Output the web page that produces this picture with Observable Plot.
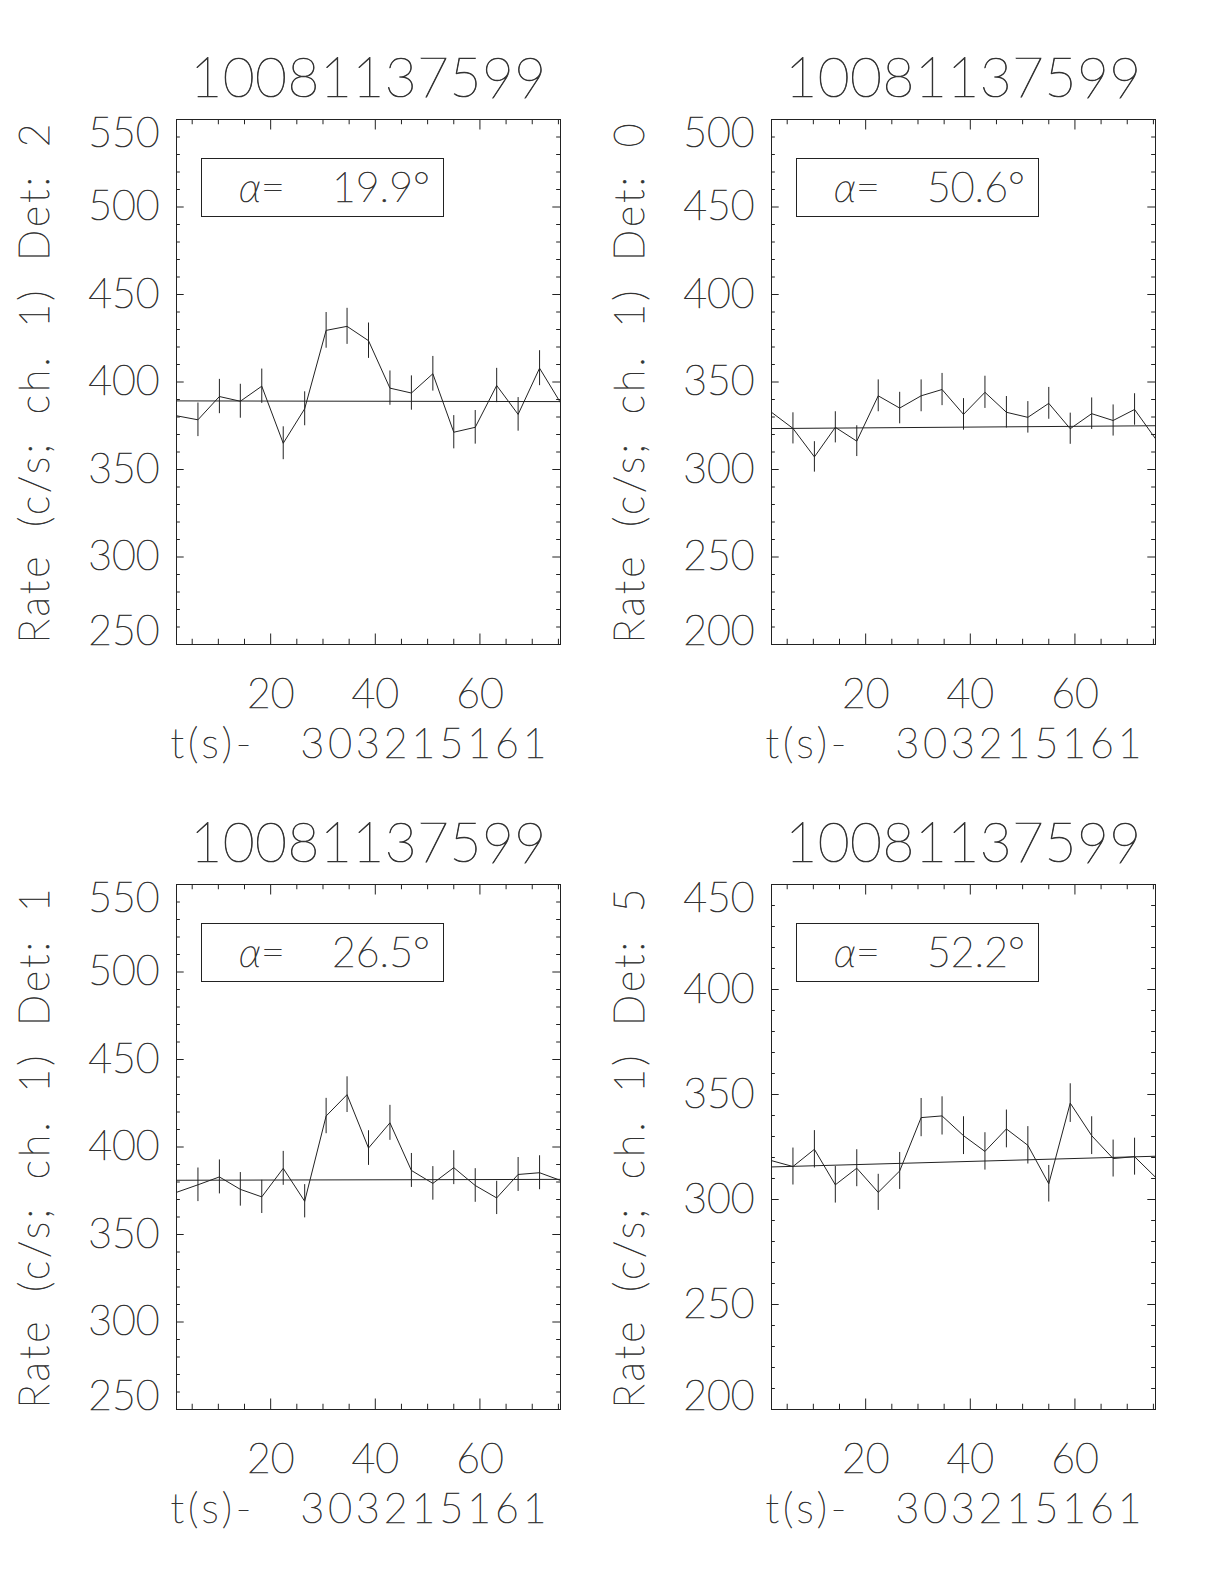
<!DOCTYPE html>
<html><head><meta charset="utf-8">
<script src="https://cdn.jsdelivr.net/npm/d3@7"></script>
<script src="https://cdn.jsdelivr.net/npm/@observablehq/plot@0.6"></script>
<style>
body{margin:0;background:#fff;}
#wrap{position:relative;width:1224px;height:1584px;background:#fff;}
#wrap svg{position:absolute;background:transparent !important;overflow:visible;}
#wrap svg text{white-space:pre;fill:#333;stroke:#333;stroke-width:0.7px;}
.alpha{letter-spacing:0px;word-spacing:12px;}
</style></head><body><div id="wrap"></div>
<script>
// ---- data ----
const burstId = "10081137599";
const xTitle = "t(s)-  303215161";
const yTitlePrefix = "Rate (c/s; ch. 1) Det: ";
const time = [2.0, 6.1, 10.2, 14.2, 18.3, 22.4, 26.5, 30.6, 34.6, 38.7, 42.8, 46.9, 51.0, 55.0, 59.1, 63.2, 67.3, 71.4, 75.4];
const xMajorTicks = [20, 40, 60];
const xMinorTicks = [5, 10, 15, 25, 30, 35, 45, 50, 55, 65, 70, 75];

const detectors = ["2", "0", "1", "5"];
const alphas = ["19.9", "50.6", "26.5", "52.2"];
const yDomains = [[250, 550], [200, 500], [250, 550], [200, 450]];
const yMajorTicks = [
  [250, 300, 350, 400, 450, 500, 550],
  [200, 250, 300, 350, 400, 450, 500],
  [250, 300, 350, 400, 450, 500, 550],
  [200, 250, 300, 350, 400, 450]
];

const rateDet2 = [380.7, 378.4, 391.7, 389.0, 397.6, 365.0, 384.7, 429.5, 431.8, 423.6, 396.5, 393.7, 404.7, 371.3, 374.1, 398.0, 381.5, 407.9, 388.2];
const errDet2  = [9.6, 9.6, 9.8, 9.7, 9.8, 9.4, 9.7, 10.2, 10.3, 10.1, 9.8, 9.8, 9.9, 9.5, 9.6, 9.8, 9.6, 10.0, 9.7];
const fitDet2  = [389.2, 388.8];

const rateDet0 = [332.7, 323.5, 307.2, 324.1, 316.2, 342.1, 335.1, 342.1, 345.7, 331.5, 344.1, 332.7, 329.8, 337.8, 323.3, 331.9, 328.0, 334.3, 317.6];
const errDet0  = [9.0, 8.9, 8.7, 8.9, 8.8, 9.1, 9.0, 9.1, 9.2, 9.0, 9.2, 9.0, 9.0, 9.1, 8.9, 9.0, 8.9, 9.0, 8.8];
const fitDet0  = [323.4, 325.0];

const rateDet1 = [374.1, 378.4, 382.9, 375.8, 371.5, 387.8, 369.0, 417.7, 429.9, 399.4, 413.8, 386.6, 379.2, 388.2, 378.0, 370.9, 384.3, 385.3, 380.9];
const errDet1  = [9.5, 9.6, 9.7, 9.6, 9.5, 9.7, 9.5, 10.1, 10.2, 9.9, 10.0, 9.7, 9.6, 9.7, 9.6, 9.5, 9.7, 9.7, 9.6];
const fitDet1  = [381.0, 381.5];

const rateDet5 = [318.5, 315.7, 323.9, 307.0, 314.9, 303.4, 313.6, 339.0, 339.8, 330.4, 322.9, 333.6, 325.8, 307.5, 345.9, 330.4, 319.5, 320.4, 310.6];
const errDet5  = [8.8, 8.8, 8.9, 8.7, 8.8, 8.6, 8.8, 9.1, 9.1, 9.0, 8.9, 9.0, 8.9, 8.7, 9.2, 9.0, 8.8, 8.8, 8.7];
const fitDet5  = [315.5, 320.6];

const rates = [rateDet2, rateDet0, rateDet1, rateDet5];
const errs = [errDet2, errDet0, errDet1, errDet5];
const fits = [fitDet2, fitDet0, fitDet1, fitDet5];

// ---- layout ----
const W = 612, H = 765, ML = 176, MR = 52, MT = 119, MB = 121;
const PW = W - ML - MR, PH = H - MT - MB;
const FONT = "Lato";
const WEIGHT = 200;
const INK = "#222";

const wrap = document.getElementById("wrap");

for (let p = 0; p < 4; p++) {
  const pts = time.map((t, i) => ({t, r: rates[p][i], e: errs[p][i]}));
  const fitPts = [{t: time[0], r: fits[p][0]}, {t: time[time.length - 1], r: fits[p][1]}];
  const [y0, y1] = yDomains[p];
  const majors = yMajorTicks[p];
  const minors = d3.range(y0, y1 + 0.001, 10).filter(v => !majors.includes(v));
  const midLabels = majors.slice(1, -1);
  const xMaj = xMajorTicks, xMin = xMinorTicks;
  const lbl = {fontSize: 41, fill: INK, text: d => String(d)};
  const yTitle = yTitlePrefix + detectors[p];

  const svg = Plot.plot({
    width: W, height: H,
    marginLeft: ML, marginRight: MR, marginTop: MT, marginBottom: MB,
    style: {fontFamily: FONT, fontWeight: WEIGHT, color: INK, background: "transparent"},
    x: {domain: [time[0], time[time.length - 1]], axis: null},
    y: {domain: [y0, y1], axis: null},
    marks: [
      // ticks (inside, IDL style)
      Plot.ruleX(xMaj, {x: d => d, insetTop: PH - 10.5, stroke: INK}),
      Plot.ruleX(xMaj, {x: d => d, insetBottom: PH - 10.5, stroke: INK}),
      Plot.ruleX(xMin, {x: d => d, insetTop: PH - 5.25, stroke: INK}),
      Plot.ruleX(xMin, {x: d => d, insetBottom: PH - 5.25, stroke: INK}),
      Plot.ruleY(majors, {y: d => d, insetRight: PW - 7.7, stroke: INK}),
      Plot.ruleY(majors, {y: d => d, insetLeft: PW - 7.7, stroke: INK}),
      Plot.ruleY(minors, {y: d => d, insetRight: PW - 3.85, stroke: INK}),
      Plot.ruleY(minors, {y: d => d, insetLeft: PW - 3.85, stroke: INK}),
      Plot.frame({stroke: INK}),
      // tick labels
      Plot.text(xMaj, {x: d => d, frameAnchor: "bottom", dy: 50, lineAnchor: "middle", textAnchor: "middle", ...lbl}),
      Plot.text(midLabels, {y: d => d, frameAnchor: "left", dx: -17, textAnchor: "end", lineAnchor: "middle", ...lbl}),
      Plot.text([majors[0]], {y: d => d, frameAnchor: "left", dx: -17, dy: -13, textAnchor: "end", lineAnchor: "middle", ...lbl}),
      Plot.text([majors[majors.length - 1]], {y: d => d, frameAnchor: "left", dx: -17, dy: 14, textAnchor: "end", lineAnchor: "middle", ...lbl}),
      // titles
      Plot.text([burstId], {frameAnchor: "top", dy: -40, lineAnchor: "middle", textAnchor: "middle", fontSize: 55, fill: INK, text: d => d}),
      Plot.text([xTitle], {frameAnchor: "bottom", dx: -8, dy: 100, lineAnchor: "middle", textAnchor: "middle", fontSize: 41, fill: INK, text: d => d}),
      Plot.text([yTitle], {frameAnchor: "left", dx: -141, rotate: -90, lineAnchor: "middle", textAnchor: "middle", fontSize: 41, fill: INK, text: d => d}),
      // data
      Plot.line(fitPts, {x: "t", y: "r", stroke: INK, strokeWidth: 1}),
      Plot.ruleX(pts, {x: "t", y1: d => d.r - d.e, y2: d => d.r + d.e, stroke: INK, strokeWidth: 1}),
      Plot.line(pts, {x: "t", y: "r", stroke: INK, strokeWidth: 1})
    ]
  });

  // spacing of the wide vector-font titles
  const sel = d3.select(svg).selectAll("text");
  sel.filter(function() { return this.textContent === burstId; }).style("letter-spacing", "0.5px");
  sel.filter(function() { return this.textContent === xTitle; }).style("letter-spacing", "4px").style("word-spacing", "7px");
  sel.filter(function() { return this.textContent === yTitle; }).style("letter-spacing", "3px").style("word-spacing", "12px");

  // annotation box
  const g = d3.select(svg).append("g");
  g.append("rect").attr("x", ML + 25.5).attr("y", MT + 39.5).attr("width", 242).attr("height", 58)
    .attr("fill", "none").attr("stroke", INK).attr("stroke-width", 1);
  const t = g.append("text").attr("class", "alpha").attr("x", ML + 63).attr("y", MT + 83)
    .attr("text-anchor", "start")
    .attr("font-size", 41).attr("fill", INK).attr("font-family", FONT).attr("font-weight", WEIGHT);
  t.append("tspan").attr("font-style", "italic").text("α");
  t.append("tspan").text("=  " + alphas[p] + "°");

  svg.style.left = ((p % 2) * 595) + "px";
  svg.style.top = (Math.floor(p / 2) * 765) + "px";
  wrap.appendChild(svg);
}
</script>
</body></html>
